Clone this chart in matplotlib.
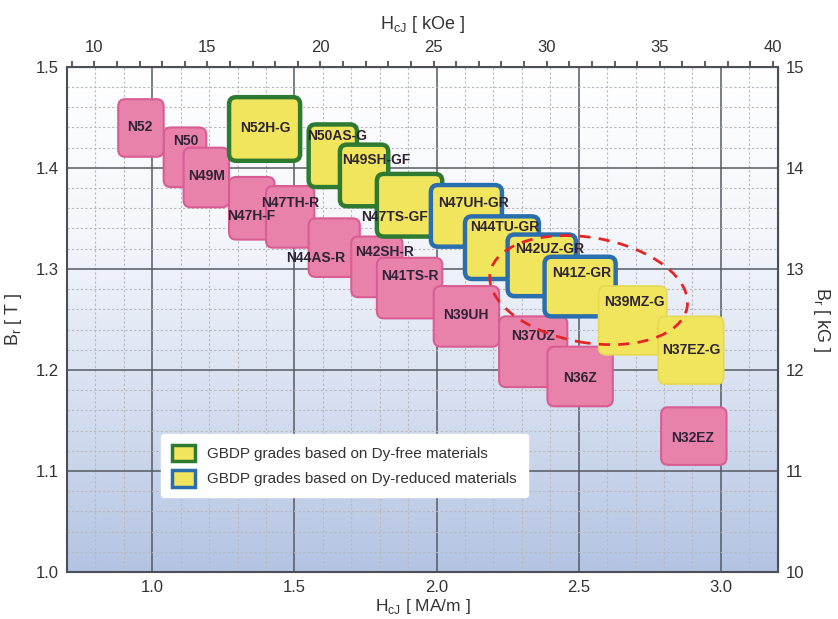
import matplotlib
matplotlib.use('Agg')
import matplotlib.pyplot as plt
import numpy as np
from matplotlib.patches import FancyBboxPatch, Ellipse, Patch
from matplotlib.colors import LinearSegmentedColormap
from matplotlib.ticker import MultipleLocator
from matplotlib.transforms import ScaledTranslation

# grade boxes, back to front: HcJ range [MA/m], Br range [T]
grades = ['N50', 'N52', 'N49M', 'N52H-G', 'N47H-F', 'N47TH-R', 'N50AS-G', 'N49SH-GF',
          'N44AS-R', 'N42SH-R', 'N47TS-GF', 'N41TS-R', 'N47UH-GR', 'N39UH', 'N44TU-GR',
          'N42UZ-GR', 'N37UZ', 'N41Z-GR', 'N36Z', 'N39MZ-G', 'N37EZ-G', 'N32EZ']
hcj_min = [1.04, 0.88, 1.11, 1.27, 1.27, 1.40, 1.55, 1.66,
           1.55, 1.70, 1.79, 1.79, 1.98, 1.99, 2.10,
           2.25, 2.22, 2.38, 2.39, 2.57, 2.78, 2.79]
hcj_max = [1.19, 1.04, 1.27, 1.52, 1.43, 1.57, 1.72, 1.83,
           1.73, 1.88, 2.02, 2.02, 2.23, 2.22, 2.36,
           2.49, 2.46, 2.63, 2.62, 2.81, 3.01, 3.02]
br_min = [1.381, 1.411, 1.361, 1.407, 1.329, 1.321, 1.381, 1.362,
          1.292, 1.272, 1.332, 1.251, 1.322, 1.223, 1.290,
          1.273, 1.183, 1.253, 1.164, 1.215, 1.186, 1.106]
br_max = [1.440, 1.468, 1.420, 1.470, 1.391, 1.382, 1.443, 1.423,
          1.350, 1.332, 1.394, 1.311, 1.383, 1.283, 1.352,
          1.334, 1.253, 1.312, 1.223, 1.283, 1.253, 1.163]
kind = ['std', 'std', 'std', 'free', 'std', 'std', 'free', 'free',
        'std', 'std', 'free', 'std', 'reduced', 'std', 'reduced',
        'reduced', 'std', 'reduced', 'std', 'plain', 'plain', 'std']

# label anchor points (layout)
label_x = [1.118, 0.957, 1.191, 1.397, 1.349, 1.484, 1.650, 1.789,
           1.576, 1.818, 1.853, 1.906, 2.129, 2.102, 2.240,
           2.398, 2.339, 2.510, 2.506, 2.695, 2.897, 2.900]
label_y = [1.427, 1.440, 1.392, 1.439, 1.352, 1.365, 1.432, 1.408,
           1.311, 1.317, 1.351, 1.293, 1.365, 1.254, 1.341,
           1.320, 1.234, 1.296, 1.192, 1.267, 1.220, 1.133]

legend_labels = ['GBDP grades based on Dy-free materials',
                 'GBDP grades based on Dy-reduced materials']

STYLE = {
    'std': dict(fc='#e882ab', ec='#d95d93', lw=1.5),
    'free': dict(fc='#f1e55e', ec='#2e7a30', lw=3.2),
    'reduced': dict(fc='#f1e55e', ec='#2a6eae', lw=3.2),
    'plain': dict(fc='#f1e55e', ec='#e6d850', lw=1.2),
}

plt.rcParams['font.family'] = ['Liberation Sans', 'DejaVu Sans']
plt.rcParams['mathtext.fontset'] = 'custom'
plt.rcParams['mathtext.rm'] = 'Liberation Sans'

fig = plt.figure(figsize=(8.38, 6.19), dpi=100)
ax = fig.add_axes([0.080, 0.076, 0.848, 0.816])
ax.set_xlim(0.7, 3.2)
ax.set_ylim(1.0, 1.5)

# background gradient: white at top, light blue at bottom
cmap = LinearSegmentedColormap.from_list('bg', ['#ffffff', '#f4f6fb', '#d6dff0', '#b3c3e2'])
grad = np.linspace(1, 0, 256).reshape(-1, 1)
ax.imshow(grad, extent=(0.7, 3.2, 1.0, 1.5), origin='lower', aspect='auto', cmap=cmap, zorder=0)

# grid
ax.xaxis.set_major_locator(MultipleLocator(0.5))
ax.xaxis.set_minor_locator(MultipleLocator(0.1))
ax.yaxis.set_major_locator(MultipleLocator(0.1))
ax.yaxis.set_minor_locator(MultipleLocator(0.02))
ax.grid(which='minor', color='#b8b8c0', lw=0.8, ls=(0, (2, 2)), zorder=0.5)
ax.grid(which='major', color='#555a63', lw=1.1, zorder=0.6)
ax.set_axisbelow(True)
ax.tick_params(which='both', length=0, labelsize=12, colors='#333333', pad=6)
ax.xaxis.set_major_formatter(lambda v, p: f'{v:.1f}')
ax.yaxis.set_major_formatter(lambda v, p: f'{v:.1f}')
for s in ax.spines.values():
    s.set_color('#4a4f58')
    s.set_linewidth(1.5)

# grade boxes
aspect = (1 / 1010) / (1 / 284.4)
for i, g in enumerate(grades):
    st = STYLE[kind[i]]
    box = FancyBboxPatch((hcj_min[i], br_min[i]), hcj_max[i] - hcj_min[i], br_max[i] - br_min[i],
                         boxstyle='round,pad=0,rounding_size=0.025', mutation_aspect=aspect,
                         fc=st['fc'], ec=st['ec'], lw=st['lw'], zorder=2 + i * 0.01)
    ax.add_patch(box)
for i, g in enumerate(grades):
    ax.text(label_x[i], label_y[i], g, ha='center', va='center', fontsize=10,
            fontweight='bold', color='#2e2433', zorder=4)

# highlight ellipse
ell = Ellipse((0, 0), 2.0, 1.05, angle=-10, fill=False, ec='#e52525', lw=2,
              ls=(0, (4, 3)), zorder=5,
              transform=fig.dpi_scale_trans + ScaledTranslation(2.535, 1.279, ax.transData))
ax.add_patch(ell)

# legend
handles = [Patch(fc=STYLE['free']['fc'], ec=STYLE['free']['ec'], lw=2.5),
           Patch(fc=STYLE['reduced']['fc'], ec=STYLE['reduced']['ec'], lw=2.5)]
leg = ax.legend(handles, legend_labels, loc='upper left', bbox_to_anchor=(0.122, 0.288),
                fontsize=11, handlelength=1.5, handleheight=1.3, labelspacing=0.55,
                borderpad=0.7, handletextpad=0.8, fancybox=True, framealpha=1,
                edgecolor='white', facecolor='white', labelcolor='#333333')
leg.set_zorder(6)

ax.set_xlabel('H$_{\\mathrm{cJ}}$ [ MA/m ]', fontsize=12.5, color='#333333', labelpad=1)
ax.set_ylabel('B$_{\\mathrm{r}}$ [ T ]', fontsize=13, color='#333333', labelpad=8)

# secondary axes: kOe on top, kG on right
koe = 4 * np.pi
top = ax.secondary_xaxis('top', functions=(lambda x: x * koe, lambda k: k / koe))
top.set_xticks(np.arange(10, 41, 5))
top.xaxis.set_minor_locator(MultipleLocator(1))
top.tick_params(which='both', direction='out', length=4.5, width=1.1, colors='#333333',
                labelsize=12, pad=4)
top.set_xlabel('H$_{\\mathrm{cJ}}$ [ kOe ]', fontsize=13, color='#333333', labelpad=8)

right = ax.secondary_yaxis('right', functions=(lambda t: t * 10, lambda k: k / 10))
right.set_yticks(np.arange(10, 16, 1))
right.tick_params(length=0, labelsize=12, colors='#333333', pad=6)
right.set_ylabel('B$_{\\mathrm{r}}$ [ kG ]', fontsize=13, color='#333333', rotation=270,
                 labelpad=20)

fig.savefig('out.png', dpi=100)
